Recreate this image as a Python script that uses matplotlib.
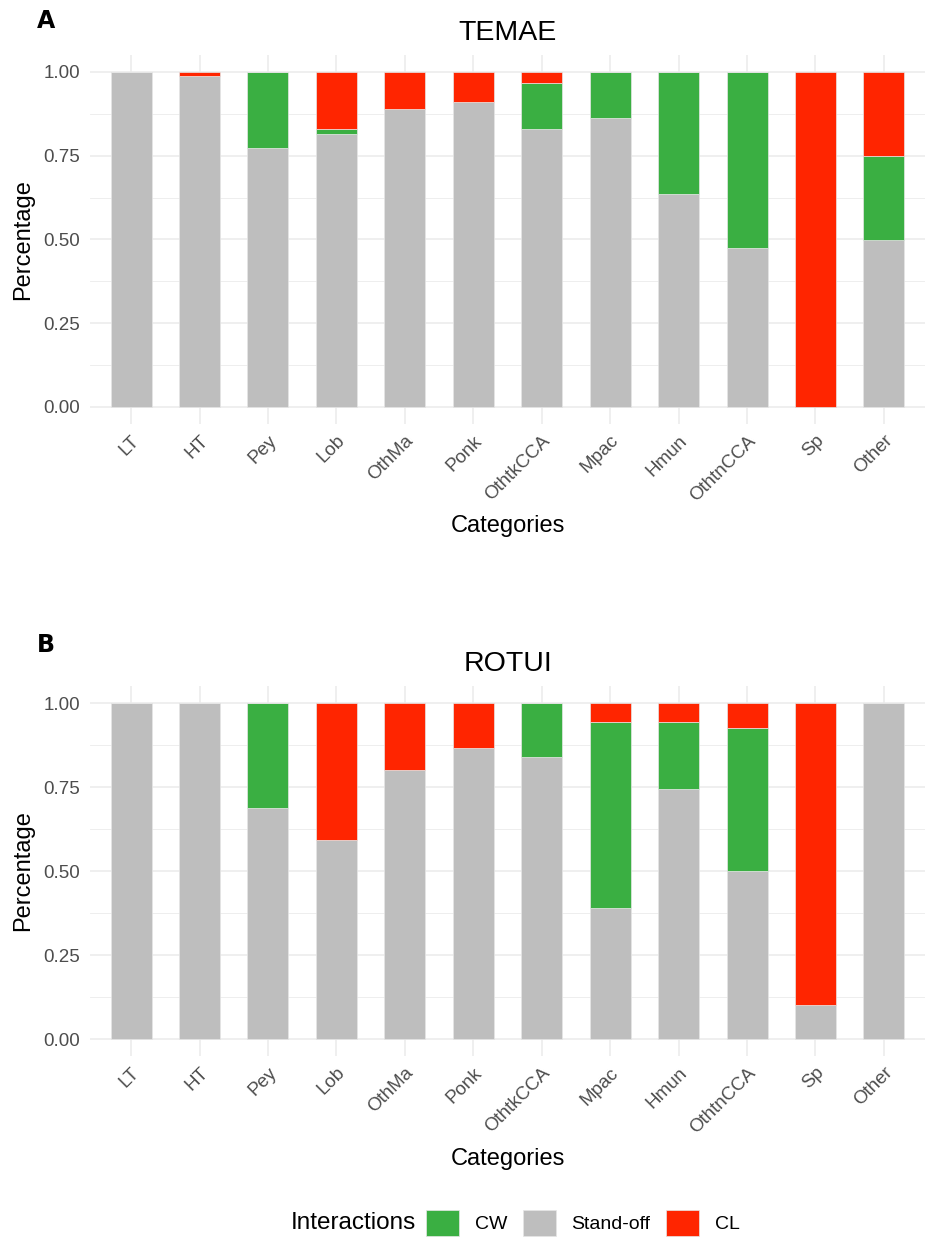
import matplotlib
matplotlib.use("Agg")
import matplotlib.pyplot as plt
import numpy as np
from matplotlib.patches import Patch

plt.rcParams['font.family'] = ['Liberation Sans', 'DejaVu Sans']

categories = ['LT', 'HT', 'Pey', 'Lob', 'OthMa', 'Ponk', 'OthtkCCA', 'Mpac',
              'Hmun', 'OthtnCCA', 'Sp', 'Other']

# TEMAE (panel A)
temae_standoff = [1.0, 0.989, 0.774, 0.815, 0.889, 0.910, 0.830, 0.863, 0.636, 0.474, 0.0, 0.50]
temae_cw = [0.0, 0.0, 0.226, 0.015, 0.0, 0.0, 0.138, 0.137, 0.364, 0.526, 0.0, 0.25]
temae_cl = [0.0, 0.011, 0.0, 0.170, 0.111, 0.090, 0.032, 0.0, 0.0, 0.0, 1.0, 0.25]

# ROTUI (panel B)
rotui_standoff = [1.0, 1.0, 0.687, 0.592, 0.800, 0.865, 0.840, 0.390, 0.744, 0.500, 0.100, 1.0]
rotui_cw = [0.0, 0.0, 0.313, 0.0, 0.0, 0.0, 0.160, 0.554, 0.199, 0.425, 0.0, 0.0]
rotui_cl = [0.0, 0.0, 0.0, 0.408, 0.200, 0.135, 0.0, 0.056, 0.057, 0.075, 0.900, 0.0]

col_cw = '#3AAF42'
col_so = '#BEBEBE'
col_cl = '#FF2500'
grid_col = '#EBEBEB'

fig = plt.figure(figsize=(9.25, 12.38), dpi=100)

W, H = 925, 1238
ax_a = fig.add_axes([90 / W, 1 - 423.75 / H, 835 / W, 368.5 / H])
ax_b = fig.add_axes([90 / W, 1 - 1055.8 / H, 835 / W, 369.6 / H])


def draw_panel(ax, title, so, cw, cl):
    x = np.arange(1, len(categories) + 1)
    so = np.array(so)
    cw = np.array(cw)
    cl = np.array(cl)
    kw = dict(width=0.6, edgecolor='#E6E6E6', linewidth=0.5, zorder=3)
    ax.bar(x, so, color=col_so, **kw)
    ax.bar(x, cw, bottom=so, color=col_cw, **kw)
    ax.bar(x, cl, bottom=so + cw, color=col_cl, **kw)

    ax.set_xlim(0.4, len(categories) + 0.6)
    ax.set_ylim(-0.05, 1.05)
    ax.set_xticks(x)
    ax.set_xticklabels(categories, rotation=45, ha='right', va='top',
                       rotation_mode='anchor', fontsize=13.5, color='#4D4D4D')
    ax.set_yticks([0, 0.25, 0.5, 0.75, 1.0])
    ax.set_yticklabels(['0.00', '0.25', '0.50', '0.75', '1.00'],
                       fontsize=13.5, color='#4D4D4D')
    ax.set_yticks([0.125, 0.375, 0.625, 0.875], minor=True)
    ax.tick_params(axis='both', which='both', length=0)
    ax.tick_params(axis='x', pad=6)
    ax.tick_params(axis='y', pad=7)

    ax.grid(True, which='major', color=grid_col, linewidth=1.1, zorder=0)
    ax.grid(True, which='minor', axis='y', color=grid_col, linewidth=0.6, zorder=0)
    for s in ax.spines.values():
        s.set_visible(False)
    ax.set_axisbelow(True)

    ax.set_title(title, fontsize=20.5, pad=11)
    ax.set_xlabel('Categories', fontsize=17, labelpad=8)
    ax.set_ylabel('Percentage', fontsize=17, labelpad=7)


draw_panel(ax_a, 'TEMAE', temae_standoff, temae_cw, temae_cl)
draw_panel(ax_b, 'ROTUI', rotui_standoff, rotui_cw, rotui_cl)

fig.text(37 / W, 1 - 21 / H, 'A', fontsize=17, fontweight='black',
         family='DejaVu Sans', va='center', ha='left')
fig.text(37 / W, 1 - 645 / H, 'B', fontsize=17, fontweight='black',
         family='DejaVu Sans', va='center', ha='left')

handles = [Patch(facecolor=col_cw, edgecolor='#E6E6E6', linewidth=0.5),
           Patch(facecolor=col_so, edgecolor='#E6E6E6', linewidth=0.5),
           Patch(facecolor=col_cl, edgecolor='#E6E6E6', linewidth=0.5)]
fig.legend(handles, ['CW', 'Stand-off', 'CL'], ncol=3, frameon=False,
           loc='center', bbox_to_anchor=(583 / W, 1 - 1223 / H),
           fontsize=14, handlelength=1.7, handleheight=1.7,
           handletextpad=0.8, columnspacing=0.8, borderpad=0, borderaxespad=0)
fig.text(416 / W, 1 - 1223 / H, 'Interactions', fontsize=17.5,
         ha='right', va='center')

fig.savefig('out.png', dpi=100)
